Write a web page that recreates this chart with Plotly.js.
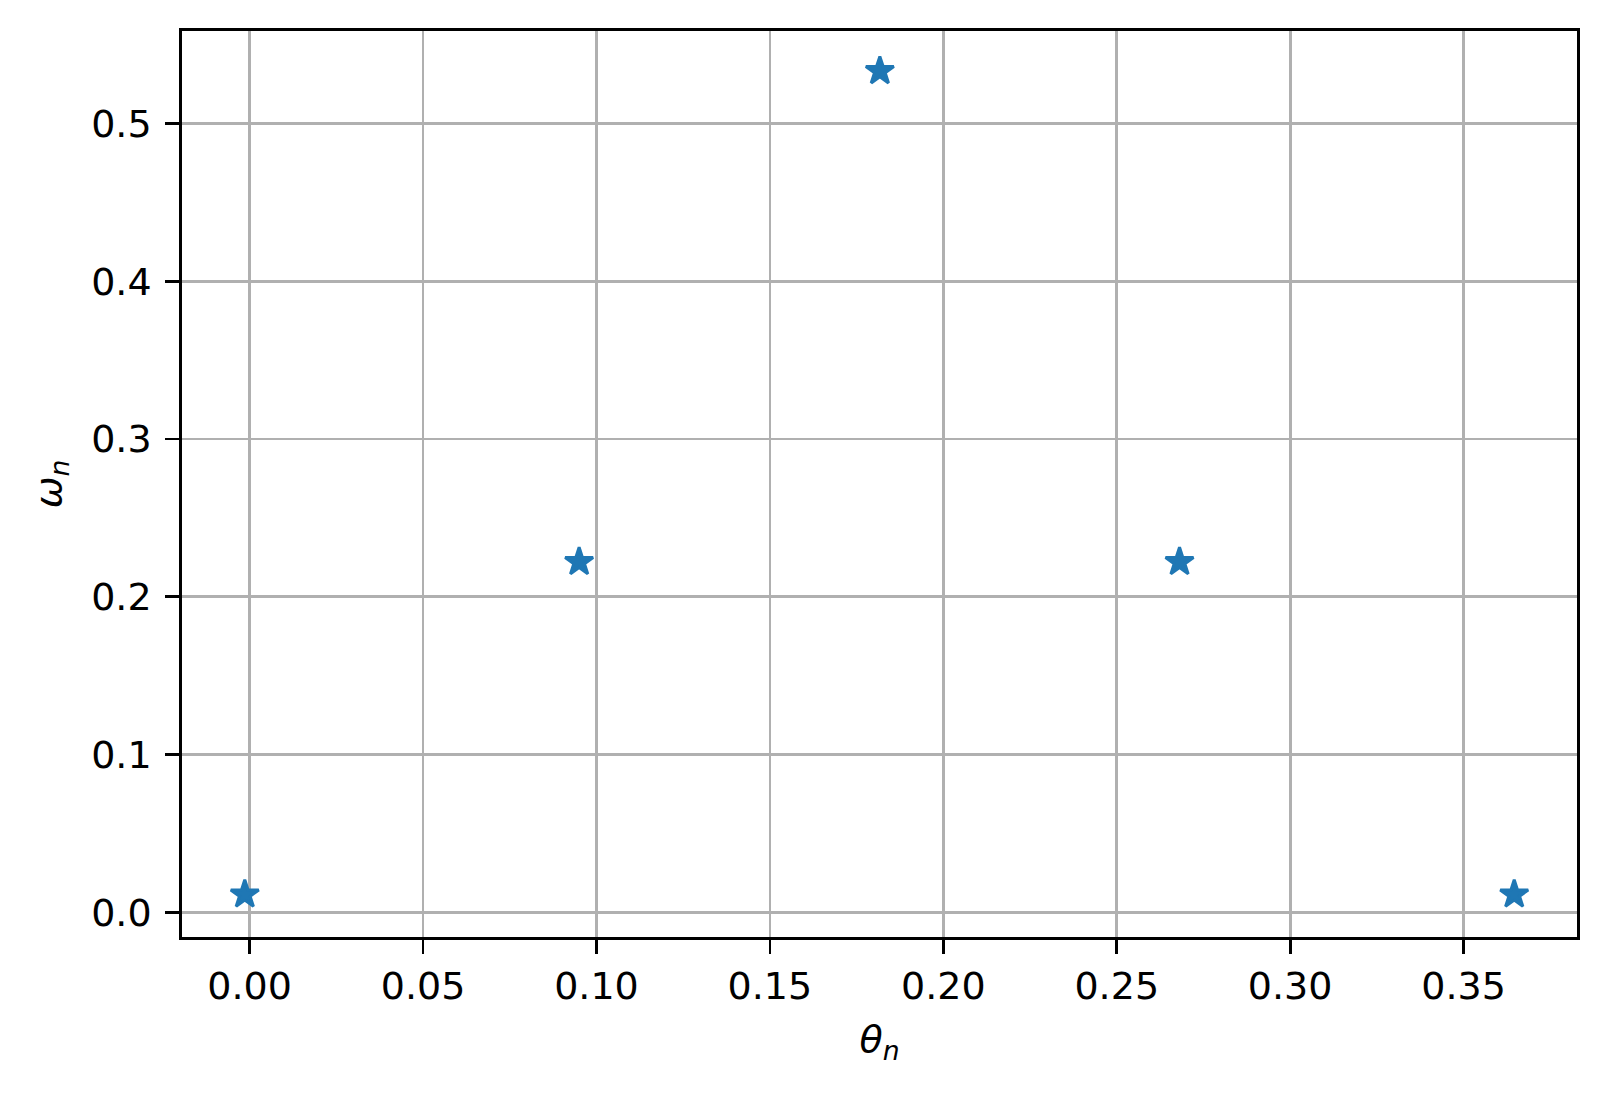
<!DOCTYPE html>
<html>
<head>
<meta charset="utf-8">
<script src="https://cdn.plot.ly/plotly-3.0.1.min.js"></script>
<style>html,body{margin:0;padding:0;background:#fff;}#chart{width:1607px;height:1093px;}</style>
</head>
<body>
<div id="chart"></div>
<script>
const theta = [-0.0014, 0.0950, 0.1817, 0.2681, 0.3646];
const omega = [0.0113, 0.2221, 0.5333, 0.2221, 0.0113];
const xTicks = [0, 0.05, 0.10, 0.15, 0.20, 0.25, 0.30, 0.35];
const xTickText = ["0.00", "0.05", "0.10", "0.15", "0.20", "0.25", "0.30", "0.35"];
const yTicks = [0, 0.1, 0.2, 0.3, 0.4, 0.5];
const yTickText = ["0.0", "0.1", "0.2", "0.3", "0.4", "0.5"];

const font = {family: "DejaVu Sans", size: 38, color: "#000"};

Plotly.newPlot("chart", [{
  x: theta, y: omega, type: "scatter", mode: "markers",
  marker: {symbol: "star", size: 21, color: "#1f77b4", line: {width: 3, color: "#1f77b4"}}
}], {
  width: 1607, height: 1093,
  paper_bgcolor: "#fff", plot_bgcolor: "#fff",
  margin: {l: 182, r: 30, t: 31, b: 156, pad: 0},
  showlegend: false,
  font: font,
  xaxis: {
    range: [-0.0195, 0.3827], tickvals: xTicks, ticktext: xTickText,
    showgrid: true, gridcolor: "#b0b0b0", gridwidth: 2.8,
    showline: true, linecolor: "#000", linewidth: 2.8, mirror: true,
    ticks: "outside", ticklen: 14, tickwidth: 2.8, tickcolor: "#000",
    zeroline: false, tickfont: font, automargin: false,
    title: {text: "<i>θ<sub>n</sub></i>", font: font, standoff: 18}
  },
  yaxis: {
    range: [-0.01566, 0.5587], tickvals: yTicks, ticktext: yTickText,
    showgrid: true, gridcolor: "#b0b0b0", gridwidth: 2.8,
    showline: true, linecolor: "#000", linewidth: 2.8, mirror: true,
    ticks: "outside", ticklen: 14, tickwidth: 2.8, tickcolor: "#000",
    ticklabelstandoff: 6,
    zeroline: false, tickfont: font, automargin: false,
    title: {text: "<i>ω<sub>n</sub></i>", font: font, standoff: 18}
  }
}, {staticPlot: true, displayModeBar: false});
</script>
</body>
</html>
